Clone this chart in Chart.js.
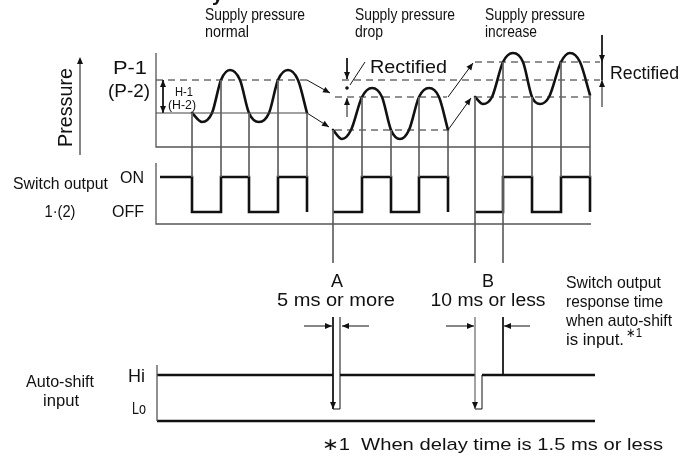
<!DOCTYPE html>
<html lang="en">
<head>
<meta charset="utf-8">
<title>Auto-shift timing</title>
<script src="https://cdn.jsdelivr.net/npm/chart.js@4.4.1/dist/chart.umd.min.js"></script>
<style>
  html, body { margin: 0; padding: 0; background: #fff; }
  canvas { display: block; }
</style>
</head>
<body>
<canvas id="timing" width="698" height="459"></canvas>
<script>
// Horizontal axis: time units. Vertical axis: level units, 0 at the top.

// Pressure waveform: crossings and extremes in each supply-pressure phase
const normalWave = [[192,113],[202,122],[212,113],[221,80],[230,70],[240,80],[249,113],[259,122],[269,113],[278,80],[288,70],[298,80],[307,113]];
const dropWave   = [[333,130],[342,139],[351,130],[362,97],[372,88],[382,97],[391,130],[400,139],[409,130],[419,97],[429,88],[439,97],[448,130]];
const riseWave   = [[475,97],[483,104],[492,97],[503,62],[513,53],[523,62],[532,97],[540,104],[549,97],[561,62],[570,53],[580,62],[590,95]];

// Switching thresholds [from, to, level]
const setLines       = [[156,307,80],[342,600,80],[335,447,97],[475,600,62]];
const resetLines     = [[335,447,130],[475,590,97]];
const hysteresisBase = [[156,307,113]];

// Switch output 1(2): start time and toggle times of each phase
const normalStart = 160, normalEdges = [192,221,249,278,307];
const dropStart   = 333, dropEdges   = [362,391,419,448];
const riseStart   = 475, riseEdges   = [503,532,561,590];
const ON = 177, OFF = 212;

// Auto-shift input pulses [fall, rise]
const pulseA = [333,340];
const pulseB = [475,482];
const HI = 375, LO = 409;
const responseEdge = 503;

// ---- helpers that turn the values into line datasets ----
const INK = '#111', GREY = '#666';
const toPts = a => a.map(([x, y]) => ({x, y}));
function joinSegs(list) {
  const out = [];
  list.forEach((seg, i) => {
    if (i) out.push({x: seg[0][0], y: null});
    seg.forEach(([x, y]) => out.push({x, y}));
  });
  return out;
}
const hSegs = list => list.map(([a, b, y]) => [[a, y], [b, y]]);
function steps(start, first, edges) {
  let s = first;
  const p = [[start, s]];
  edges.forEach(x => { p.push([x, s]); s = (s === ON ? OFF : ON); p.push([x, s]); });
  return p;
}
const waveAt = (w, x) => w.find(p => p[0] === x)[1];

const guideLow = 263;     // guides stop above the A / B labels
const guideResume = 317;  // and resume below them

const connectors = [];
normalEdges.forEach(x => connectors.push([[x, waveAt(normalWave, x)], [x, ON]]));
dropEdges.forEach(x => connectors.push([[x, waveAt(dropWave, x)], [x, ON]]));
riseEdges.filter(x => x !== responseEdge).forEach(x => connectors.push([[x, waveAt(riseWave, x)], [x, ON]]));
connectors.push([[dropStart, waveAt(dropWave, dropStart)], [dropStart, guideLow]]);
connectors.push([[riseStart, waveAt(riseWave, riseStart)], [riseStart, guideLow]]);
connectors.push([[responseEdge, waveAt(riseWave, responseEdge)], [responseEdge, guideLow]]);

// thin black strokes: arrow shafts, pulse outlines, markers
const shiftArrows = [[[307,80],[330,93]], [[307,113],[329,127]], [[448,97],[473,63]], [[448,130],[471,98]]];
const widthArrows = [[[304,326],[332,326]], [[369,326],[342,326]], [[446,326],[474,326]], [[530,326],[504,326]]];
const rectifyDrop = [[[347,58],[347,79]], [[347,117],[347,98]], [[350,85],[365,62]]];
const rectifyRise = [[[602,35],[602,62]], [[602,107],[602,80]], [[602,62],[602,80]]];
const hArrow = [[[163,80],[163,113]]];
const pressureArrow = [[[80,155],[80,60]]];
const pulseOutlineA = [[[pulseA[0], guideResume], [pulseA[0], LO], [pulseA[1], LO], [pulseA[1], guideResume]]];
const pulseOutlineB = [[[pulseB[0], LO], [pulseB[1], LO], [pulseB[1], HI]], [[responseEdge, guideResume], [responseEdge, HI]]];
const thinInk = [...shiftArrows, ...widthArrows, ...rectifyDrop, ...rectifyRise, ...hArrow, ...pressureArrow, ...pulseOutlineA, ...pulseOutlineB];

const frames = [
  [[156,53],[156,147],[590,147]],
  [[156,163],[156,224],[591,224]],
  [[157,365],[157,421]]
];
const hiLine = [[[157,HI],[pulseA[0],HI]], [[pulseA[1],HI],[pulseB[0],HI]], [[pulseB[1],HI],[595,HI]]];
const loBase = [[[157,421],[595,421]]];

function ds(data, o) {
  return Object.assign({data, showLine: true, pointRadius: 0, pointHoverRadius: 0, fill: false,
    tension: 0, spanGaps: false, borderCapStyle: 'butt', borderJoinStyle: 'miter', borderColor: INK, borderWidth: 1}, o);
}
const waveStyle = {borderWidth: 2.6, cubicInterpolationMode: 'monotone', tension: 0.4, borderJoinStyle: 'round', borderCapStyle: 'round'};

const datasets = [
  ds(joinSegs(frames), {borderColor: '#555', borderWidth: 1.3}),
  ds(joinSegs(connectors), {borderColor: GREY, borderWidth: 1}),
  ds(joinSegs([[[pulseB[0], guideResume], [pulseB[0], LO]]]), {borderColor: GREY, borderWidth: 1.2}),
  ds(joinSegs(hSegs(setLines).concat(hSegs(resetLines))), {borderColor: '#222', borderWidth: 1, borderDash: [7, 5]}),
  ds(joinSegs(hSegs(hysteresisBase)), {borderColor: '#444', borderWidth: 1}),
  ds(joinSegs(thinInk), {borderColor: INK, borderWidth: 1}),
  ds(joinSegs(hiLine.concat(loBase)), {borderColor: INK, borderWidth: 2.4}),
  ds(toPts(steps(normalStart, ON, normalEdges)), {borderWidth: 2.6}),
  ds(toPts(steps(dropStart, OFF, dropEdges)), {borderWidth: 2.6}),
  ds(toPts(steps(riseStart, OFF, riseEdges)), {borderWidth: 2.6}),
  ds(toPts(normalWave), waveStyle),
  ds(toPts(dropWave), waveStyle),
  ds(toPts(riseWave), waveStyle)
];

// arrow heads: [tip, tail]
const heads = [
  ...shiftArrows.map(([a, b]) => [b, a]),
  ...widthArrows.map(([a, b]) => [b, a]),
  [[347,79],[347,58]], [[347,98],[347,117]],
  [[602,62],[602,35]], [[602,80],[602,107]],
  [[163,80],[163,113]], [[163,113],[163,80]],
  [[80,57],[80,155]],
  [[pulseA[0], LO], [pulseA[0], guideResume]],
  [[pulseB[0], LO], [pulseB[0], guideResume]]
];

const FONT = '"Liberation Sans", Arial, Helvetica, sans-serif';
const labels = [
  {t: 'y', x: 212, y: 1, size: 20, bold: true},
  {t: 'Supply pressure', x: 205, y: 20, size: 17, w: 100},
  {t: 'normal', x: 205, y: 37, size: 17, w: 44},
  {t: 'Supply pressure', x: 355, y: 20, size: 17, w: 100},
  {t: 'drop', x: 355, y: 37, size: 17, w: 28},
  {t: 'Supply pressure', x: 485, y: 20, size: 17, w: 100},
  {t: 'increase', x: 485, y: 37, size: 17, w: 52},
  {t: 'Pressure', x: 72, y: 107.5, size: 20, w: 79, align: 'center', rot: -Math.PI / 2},
  {t: 'P-1', x: 130, y: 74, size: 19, w: 34, align: 'center'},
  {t: '(P-2)', x: 129, y: 97, size: 19, w: 42, align: 'center'},
  {t: 'H-1', x: 175, y: 96, size: 12, w: 18},
  {t: '(H-2)', x: 168, y: 109, size: 12, w: 28},
  {t: 'Rectified', x: 370, y: 73, size: 19, w: 77},
  {t: 'Rectified', x: 610, y: 79, size: 18, w: 69},
  {t: 'Switch output', x: 13, y: 189, size: 17, w: 95},
  {t: '1·(2)', x: 60, y: 217, size: 17, w: 31, align: 'center'},
  {t: 'ON', x: 144, y: 183, size: 17, w: 24, align: 'right'},
  {t: 'OFF', x: 144, y: 217, size: 17, w: 32, align: 'right'},
  {t: 'A', x: 337, y: 287, size: 18, align: 'center'},
  {t: '5 ms or more', x: 336, y: 306, size: 18, w: 118, align: 'center'},
  {t: 'B', x: 488, y: 287, size: 18, align: 'center'},
  {t: '10 ms or less', x: 488, y: 306, size: 18, w: 115, align: 'center'},
  {t: 'Switch output', x: 566, y: 288, size: 17, w: 95},
  {t: 'response time', x: 566, y: 307, size: 17, w: 97},
  {t: 'when auto-shift', x: 566, y: 326, size: 17, w: 106},
  {t: 'is input.', x: 566, y: 345, size: 17, w: 58},
  {t: '∗1', x: 626, y: 337, size: 13, w: 16},
  {t: 'Auto-shift', x: 26, y: 387, size: 16, w: 68},
  {t: 'input', x: 61, y: 406, size: 16, w: 36, align: 'center'},
  {t: 'Hi', x: 145, y: 382, size: 18, w: 17, align: 'right'},
  {t: 'Lo', x: 146, y: 414, size: 17, w: 14, align: 'right'},
  {t: '∗1  When delay time is 1.5 ms or less', x: 322, y: 450, size: 17, w: 341}
];

const overlay = {
  id: 'overlay',
  afterDatasetsDraw(chart) {
    const {ctx, scales: {x, y}} = chart;
    const px = v => x.getPixelForValue(v), py = v => y.getPixelForValue(v);
    ctx.save();
    ctx.fillStyle = INK;
    heads.forEach(([tip, tail]) => {
      const tx = px(tip[0]), ty = py(tip[1]);
      const ang = Math.atan2(ty - py(tail[1]), tx - px(tail[0]));
      const len = 7, half = 3;
      ctx.beginPath();
      ctx.moveTo(tx, ty);
      ctx.lineTo(tx - len * Math.cos(ang) + half * Math.sin(ang), ty - len * Math.sin(ang) - half * Math.cos(ang));
      ctx.lineTo(tx - len * Math.cos(ang) - half * Math.sin(ang), ty - len * Math.sin(ang) + half * Math.cos(ang));
      ctx.closePath();
      ctx.fill();
    });
    ctx.beginPath();
    ctx.arc(px(347), py(88), 1.8, 0, Math.PI * 2);
    ctx.fill();
    labels.forEach(s => {
      ctx.save();
      ctx.font = `${s.bold ? 'bold ' : ''}${s.size}px ${FONT}`;
      ctx.textAlign = 'left';
      ctx.textBaseline = 'alphabetic';
      const natural = ctx.measureText(s.t).width;
      const k = s.w ? s.w / natural : 1;
      const w = natural * k;
      ctx.translate(px(s.x), py(s.y));
      if (s.rot) ctx.rotate(s.rot);
      ctx.translate(s.align === 'center' ? -w / 2 : s.align === 'right' ? -w : 0, 0);
      ctx.scale(k, 1);
      ctx.fillText(s.t, 0, 0);
      ctx.restore();
    });
    ctx.restore();
  }
};

new Chart(document.getElementById('timing'), {
  type: 'scatter',
  data: {datasets},
  options: {
    responsive: false,
    animation: false,
    devicePixelRatio: 1,
    events: [],
    layout: {padding: 0},
    plugins: {legend: {display: false}, tooltip: {enabled: false}},
    scales: {
      x: {type: 'linear', min: 0, max: 698, display: false},
      y: {type: 'linear', min: 0, max: 459, reverse: true, display: false}
    }
  },
  plugins: [overlay]
});
</script>
</body>
</html>
